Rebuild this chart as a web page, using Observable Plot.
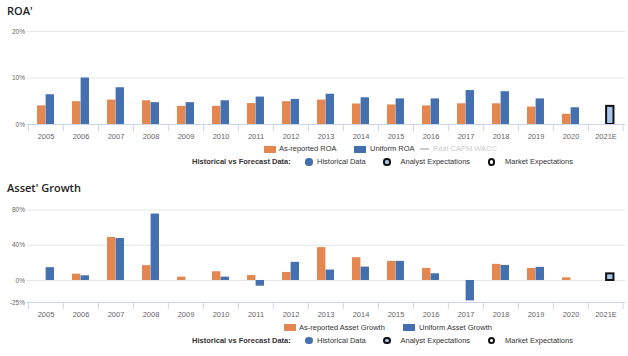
<!DOCTYPE html>
<html>
<head>
<meta charset="utf-8">
<script src="https://cdn.jsdelivr.net/npm/d3@7"></script>
<script src="https://cdn.jsdelivr.net/npm/@observablehq/plot@0.6"></script>
<style>
  html, body { margin: 0; padding: 0; background: #fff; }
  #root { position: relative; width: 628px; height: 356px; overflow: hidden; font-family: "Liberation Sans", Arial, sans-serif; }
  .abs { position: absolute; white-space: nowrap; }
  .title { font-family: "Open Sans", sans-serif; font-size: 11px; font-weight: 600; color: #222; line-height: 14px; transform: translateY(-50%); }
  .lg { font-size: 7.5px; color: #333; line-height: 10px; transform: translateY(-50%); }
  .lg.bold { font-weight: bold; }
  .lg.dim { color: #cccccc; }
  .sw { position: absolute; }
  .dot { position: absolute; border-radius: 50%; box-sizing: border-box; }
</style>
</head>
<body>
<div id="root"></div>
<script>
// ---------- data ----------
const years = ["2005","2006","2007","2008","2009","2010","2011","2012","2013","2014","2015","2016","2017","2018","2019","2020","2021E"];
const roaReported = [4.0, 4.9, 5.25, 5.1, 3.9, 3.9, 4.5, 4.9, 5.25, 4.4, 4.2, 4.0, 4.45, 4.45, 3.75, 2.2, null];
const roaUniform  = [6.4, 10.0, 7.9, 4.7, 4.7, 5.1, 5.9, 5.4, 6.5, 5.75, 5.5, 5.5, 7.3, 7.05, 5.5, 3.6, null];
const roaForecast = [null, null, null, null, null, null, null, null, null, null, null, null, null, null, null, null, 3.9];
const roaTicks = [0, 10, 20];

const agReported = [0, 7.2, 48.8, 16.8, 3.8, 9.9, 5.7, 9.1, 37.3, 25.9, 21.7, 13.7, 0, 18.3, 13.7, 3.0, null];
const agUniform  = [14.5, 5.3, 47.6, 75.4, 0, 3.8, -6.5, 20.6, 11.8, 15.2, 21.7, 7.6, -23.2, 17.1, 14.9, 0, null];
const agForecast = [null, null, null, null, null, null, null, null, null, null, null, null, null, null, null, null, 7.5];
const agTicks = [-25, 0, 40, 80];

// ---------- styles ----------
const ORANGE = "#e4864f";
const BLUE = "#4470b0";
const LIGHTBLUE = "#a9c5ea";
const GRID = "#e6e6e6";
const AXIS = "#ccd6eb";
const W = 628, ML = 26, MR = 3;
const bw = (W - ML - MR) / years.length;
const half = bw / 2;
const barW = 8.6;

const root = document.getElementById("root");

function makeChart({reported, uniform, forecast, domain, ticks, top, height, marginTop, marginBottom}) {
  const rows = years.map((y, i) => ({year: y, reported: reported[i], uniform: uniform[i], forecast: forecast[i]}));
  const plotH = height - marginTop - marginBottom;
  const perUnit = plotH / (domain[1] - domain[0]);
  const tickLen = 7 / perUnit;
  const yMin = domain[0];
  const chart = Plot.plot({
    width: W, height,
    marginLeft: ML, marginRight: MR, marginTop, marginBottom,
    style: {fontFamily: "'Liberation Sans', Arial, sans-serif", fontSize: "7.5px", color: "#666", background: "transparent", overflow: "visible"},
    x: {type: "band", domain: years, padding: 0, axis: null, label: null},
    y: {domain, axis: null, label: null},
    marks: [
      Plot.ruleY(ticks.filter(t => t !== yMin), {stroke: GRID, strokeWidth: 1}),
      Plot.barY(rows, {x: "year", y: "reported", fill: ORANGE, insetLeft: half - barW, insetRight: half}),
      Plot.barY(rows, {x: "year", y: "uniform", fill: BLUE, insetLeft: half, insetRight: half - barW}),
      Plot.barY(rows, {x: "year", y: "forecast", fill: LIGHTBLUE, stroke: "#111", strokeWidth: 2, insetLeft: half + 0.5, insetRight: half - barW + 0.5}),
      Plot.ruleY([yMin], {stroke: AXIS, strokeWidth: 1}),
      Plot.ruleX(years, {x: d => d, dx: -half, y1: yMin, y2: yMin - tickLen, stroke: AXIS}),
      Plot.ruleX([years[years.length - 1]], {x: d => d, dx: half - 0.5, y1: yMin, y2: yMin - tickLen, stroke: AXIS}),
      Plot.axisX({tickSize: 0, tickPadding: 9, fill: "#666", fontSize: 7.5, label: null}),
      Plot.axisY({ticks, tickFormat: d => d + "%", tickSize: 0, tickPadding: 1.5, fill: "#666", fontSize: 6.5, label: null})
    ]
  });
  chart.style.position = "absolute";
  chart.style.left = "0px";
  chart.style.top = top + "px";
  root.appendChild(chart);
}

function text(str, x, y, cls) {
  const d = document.createElement("div");
  d.className = "abs " + cls;
  d.textContent = str;
  d.style.left = x + "px";
  d.style.top = y + "px";
  root.appendChild(d);
}
function rect(x, y, w, h, color) {
  const d = document.createElement("div");
  d.className = "sw";
  Object.assign(d.style, {left: x + "px", top: y + "px", width: w + "px", height: h + "px", background: color});
  root.appendChild(d);
}
function dot(cx, cy, r, fill, stroke) {
  const d = document.createElement("div");
  d.className = "dot";
  Object.assign(d.style, {left: (cx - r) + "px", top: (cy - r) + "px", width: 2 * r + "px", height: 2 * r + "px", background: fill, border: stroke ? "2px solid " + stroke : "none"});
  root.appendChild(d);
}

function legend(y1, y2, reportedLabel, uniformLabel, xs) {
  rect(xs.sw1, y1 - 3.5, 12, 7, ORANGE);
  text(reportedLabel, xs.sw1 + 15, y1, "lg");
  rect(xs.sw2, y1 - 3.5, 12, 7, BLUE);
  text(uniformLabel, xs.sw2 + 16, y1, "lg");
  if (xs.wacc) {
    rect(xs.wacc, y1 - 1, 9, 1.5, "#cccccc");
    text("Real CAPM WACC", xs.wacc + 13, y1, "lg dim");
  }
  text("Historical vs Forecast Data:", 192, y2, "lg bold");
  dot(309, y2, 3.6, BLUE, null);
  text("Historical Data", 317, y2, "lg");
  dot(387, y2, 3.6, LIGHTBLUE, "#111");
  text("Analyst Expectations", 400.5, y2, "lg");
  dot(491.7, y2, 3.6, "#fff", "#111");
  text("Market Expectations", 505, y2, "lg");
}

// ---------- ROA ----------
text("ROA'", 7, 11, "title");
makeChart({reported: roaReported, uniform: roaUniform, forecast: roaForecast, domain: [0, 20], ticks: roaTicks, top: 20, height: 125, marginTop: 11, marginBottom: 21});
legend(149, 162, "As-reported ROA", "Uniform ROA", {sw1: 264, sw2: 354, wacc: 420});

// ---------- Asset Growth ----------
text("Asset' Growth", 7, 188, "title");
makeChart({reported: agReported, uniform: agUniform, forecast: agForecast, domain: [-25, 80], ticks: agTicks, top: 198, height: 125, marginTop: 11.5, marginBottom: 21});
legend(327.5, 340.7, "As-reported Asset Growth", "Uniform Asset Growth", {sw1: 284, sw2: 403});
</script>
</body>
</html>
